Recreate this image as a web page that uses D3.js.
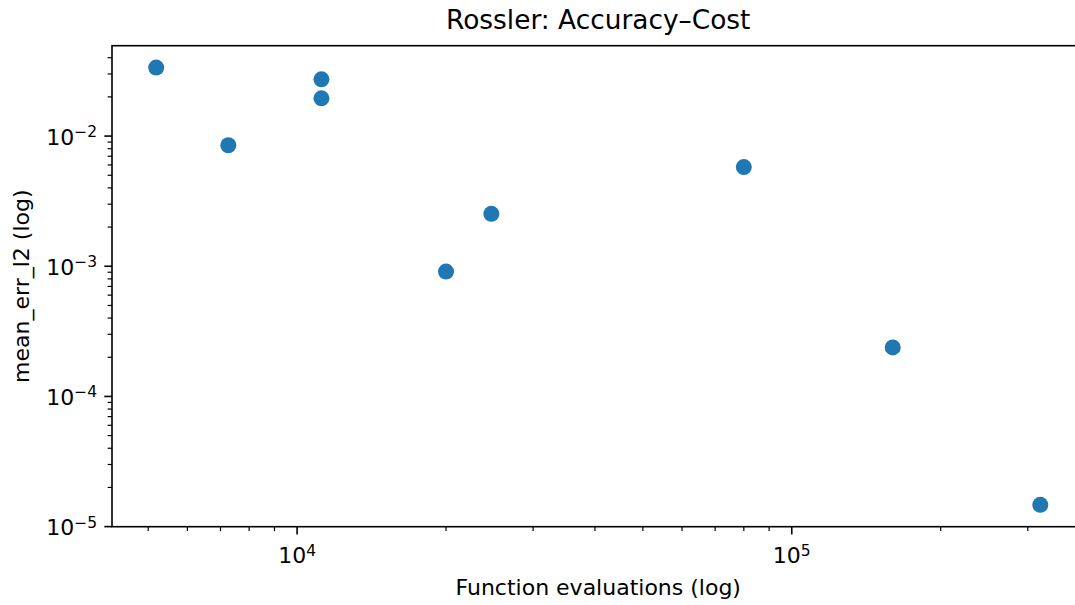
<!DOCTYPE html>
<html lang="en">
<head>
    <meta charset="UTF-8">
    <title>Rossler: Accuracy–Cost</title>
    <script src="https://d3js.org/d3.v7.min.js"></script>
    <style>
        body { margin: 0; background: #fff; overflow: hidden; }
        svg { display: block; font-family: "DejaVu Sans", sans-serif; }
    </style>
</head>
<body>
    <div id="chart"></div>
    <script>
        // Data (function evaluations vs mean L2 error)
        const evals  = [5190, 7260, 11200, 11200, 20000, 24700, 80000, 160000, 318000];
        const errors = [0.0336, 0.0085, 0.0273, 0.0195, 0.00091, 0.00253, 0.00578, 0.000238, 0.0000147];
        const xMajorTicks = [1e4, 1e5];
        const yMajorTicks = [1e-5, 1e-4, 1e-3, 1e-2];
        const xMajorExp = ["4", "5"];
        const yMajorExp = ["−5", "−4", "−3", "−2"];

        const width = 1075, height = 605;
        const plotLeft = 112, plotRight = 1084.5, plotTop = 45.7, plotBottom = 526.7;
        const fontSize = 22, supSize = 15.5, titleSize = 26.4;

        const svg = d3.select("#chart").append("svg")
            .attr("width", width)
            .attr("height", height);

        // log-space padding like matplotlib autoscale (5%)
        function padDomain(vals) {
            const lo = Math.log10(d3.min(vals)), hi = Math.log10(d3.max(vals));
            const m = (hi - lo) * 0.05;
            return [Math.pow(10, lo - m), Math.pow(10, hi + m)];
        }

        const x = d3.scaleLog().domain(padDomain(evals)).range([plotLeft, plotRight]);
        const y = d3.scaleLog().domain(padDomain(errors)).range([plotBottom, plotTop]);

        const points = evals.map((e, i) => ({ e: e, err: errors[i] }));

        // minor ticks = all log ticks that aren't majors
        const isMajor = (list, t) => list.some(m => Math.abs(m - t) / m < 1e-9);
        const xMinor = x.ticks().filter(t => !isMajor(xMajorTicks, t));
        const yMinor = y.ticks().filter(t => !isMajor(yMajorTicks, t));

        const ink = "#000";

        // points
        svg.append("g").selectAll("circle")
            .data(points)
            .join("circle")
            .attr("cx", d => x(d.e))
            .attr("cy", d => y(d.err))
            .attr("r", 8)
            .attr("fill", "#1f77b4");

        // x axis ticks
        const gx = svg.append("g");
        gx.selectAll(".minor")
            .data(xMinor)
            .join("line")
            .attr("class", "minor")
            .attr("x1", d => x(d)).attr("x2", d => x(d))
            .attr("y1", plotBottom).attr("y2", plotBottom + 4.4)
            .attr("stroke", ink).attr("stroke-width", 1.2);
        gx.selectAll(".major")
            .data(xMajorTicks)
            .join("line")
            .attr("class", "major")
            .attr("x1", d => x(d)).attr("x2", d => x(d))
            .attr("y1", plotBottom).attr("y2", plotBottom + 7.7)
            .attr("stroke", ink).attr("stroke-width", 1.6);
        const xl = gx.selectAll("text")
            .data(xMajorTicks)
            .join("text")
            .attr("x", d => x(d))
            .attr("y", 563)
            .attr("text-anchor", "middle")
            .attr("font-size", fontSize)
            .attr("fill", ink);
        xl.append("tspan").text("10");
        xl.append("tspan").attr("font-size", supSize).attr("dy", -7.5).text((d, i) => xMajorExp[i]);

        // y axis ticks
        const gy = svg.append("g");
        gy.selectAll(".minor")
            .data(yMinor)
            .join("line")
            .attr("class", "minor")
            .attr("x1", plotLeft - 4.4).attr("x2", plotLeft)
            .attr("y1", d => y(d)).attr("y2", d => y(d))
            .attr("stroke", ink).attr("stroke-width", 1.2);
        gy.selectAll(".major")
            .data(yMajorTicks)
            .join("line")
            .attr("class", "major")
            .attr("x1", plotLeft - 7.7).attr("x2", plotLeft)
            .attr("y1", d => y(d)).attr("y2", d => y(d))
            .attr("stroke", ink).attr("stroke-width", 1.6);
        const yl = gy.selectAll("text")
            .data(yMajorTicks)
            .join("text")
            .attr("x", 97)
            .attr("y", d => y(d) + 8.5)
            .attr("text-anchor", "end")
            .attr("font-size", fontSize)
            .attr("fill", ink);
        yl.append("tspan").text("10");
        yl.append("tspan").attr("font-size", supSize).attr("dy", -7.5).text((d, i) => yMajorExp[i]);

        // frame (right spine falls just outside the window, as in the reference)
        svg.append("rect")
            .attr("x", plotLeft).attr("y", plotTop)
            .attr("width", plotRight - plotLeft).attr("height", plotBottom - plotTop)
            .attr("fill", "none")
            .attr("stroke", ink)
            .attr("stroke-width", 1.6);

        // labels
        svg.append("text")
            .attr("x", (plotLeft + plotRight) / 2)
            .attr("y", 29)
            .attr("text-anchor", "middle")
            .attr("font-size", titleSize)
            .attr("fill", ink)
            .text("Rossler: Accuracy–Cost");

        svg.append("text")
            .attr("x", (plotLeft + plotRight) / 2)
            .attr("y", 595)
            .attr("text-anchor", "middle")
            .attr("font-size", fontSize)
            .attr("fill", ink)
            .text("Function evaluations (log)");

        svg.append("text")
            .attr("transform", `translate(29, ${(plotTop + plotBottom) / 2}) rotate(-90)`)
            .attr("text-anchor", "middle")
            .attr("font-size", fontSize)
            .attr("fill", ink)
            .text("mean_err_l2 (log)");
    </script>
</body>
</html>
